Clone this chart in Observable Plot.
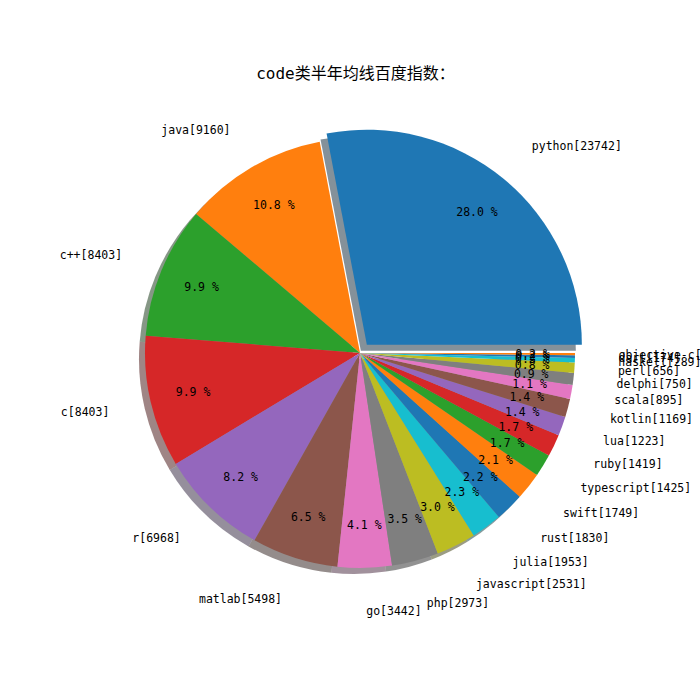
<!DOCTYPE html>
<html>
<head>
<meta charset="utf-8">
<script src="https://cdn.jsdelivr.net/npm/d3@7"></script>
<script src="https://cdn.jsdelivr.net/npm/@observablehq/plot@0.6"></script>
<style>
  html, body { margin: 0; padding: 0; background: #fff; }
  #wrap { position: relative; width: 700px; height: 700px; }
  #title { position: absolute; left: 0; width: 711px; top: 60px; text-align: center;
           font-family: "DejaVu Sans Mono", "Noto Sans CJK SC", monospace; font-size: 16px; color: #000; }
  #chart { position: absolute; left: 0; top: 0; }
</style>
</head>
<body>
<div id="wrap">
  <div id="chart"></div>
  <div id="title">code类半年均线百度指数：</div>
</div>
<script>
const names = ["python","java","c++","c","r","matlab","go","php","javascript","julia","rust","swift","typescript","ruby","lua","kotlin","scala","delphi","perl","haskell","dart","objective-c"];
const values = [23742,9160,8403,8403,6968,5498,3442,2973,2531,1953,1830,1749,1425,1419,1223,1169,895,750,656,289,174,140];
const colors = ["#1f77b4","#ff7f0e","#2ca02c","#d62728","#9467bd","#8c564b","#e377c2","#7f7f7f","#bcbd22","#17becf"];

const EXPLODE_FIRST = 0.05;
const LABEL_DIST = 1.2;
const PCT_DIST = 0.8;
const SHADOW = 0.028;

const total = d3.sum(values);
let cum = 0;
const data = names.map((name, i) => {
  const v = values[i];
  const t1 = 2 * Math.PI * cum / total;
  cum += v;
  const t2 = 2 * Math.PI * cum / total;
  const mid = (t1 + t2) / 2;
  const ex = i === 0 ? EXPLODE_FIRST : 0;
  const cx = ex * Math.cos(mid), cy = ex * Math.sin(mid);
  return {
    name, value: v, t1, t2, mid, cx, cy,
    color: colors[i % colors.length],
    label: `${name}[${v}]`,
    pct: `${(100 * v / total).toFixed(1)} %`,
    lx: cx + LABEL_DIST * Math.cos(mid),
    ly: cy + LABEL_DIST * Math.sin(mid),
    px: cx + PCT_DIST * Math.cos(mid),
    py: cy + PCT_DIST * Math.sin(mid)
  };
});

// pixel layout: center (360,353), radius 215
const W = 700, H = 700, CX = 360, CY = 353, R = 215;
const xDomain = [-CX / R, (W - CX) / R];
const yDomain = [-(H - CY) / R, CY / R];

const font = "'DejaVu Sans Mono', 'Noto Sans CJK SC', monospace";

function wedges(index, scales) {
  const {x, y} = scales;
  const r = x(1) - x(0);
  const g = d3.create("svg:g");
  const arc = d3.arc().innerRadius(0).outerRadius(r);
  for (const d of data) {
    const c = d3.rgb(d.color);
    g.append("path")
      .attr("d", arc({startAngle: Math.PI / 2 - d.t2, endAngle: Math.PI / 2 - d.t1}))
      .attr("transform", `translate(${x(d.cx - SHADOW)},${y(d.cy - SHADOW)})`)
      .attr("fill", d3.rgb(c.r * 0.3, c.g * 0.3, c.b * 0.3))
      .attr("fill-opacity", 0.5);
  }
  for (const d of data) {
    g.append("path")
      .attr("d", arc({startAngle: Math.PI / 2 - d.t2, endAngle: Math.PI / 2 - d.t1}))
      .attr("transform", `translate(${x(d.cx)},${y(d.cy)})`)
      .attr("fill", d.color);
  }
  return g.node();
}

const plot = Plot.plot({
  width: W, height: H,
  margin: 0,
  x: {domain: xDomain, axis: null},
  y: {domain: yDomain, axis: null},
  style: {background: "transparent", overflow: "visible"},
  marks: [
    wedges,
    Plot.text(data, {x: "px", y: "py", text: "pct", textAnchor: "middle", fill: "black", fontSize: 11.5, fontFamily: font}),
    Plot.text(data.filter(d => d.lx > 0), {x: "lx", y: "ly", text: "label", textAnchor: "start", fill: "black", fontSize: 11.5, fontFamily: font}),
    Plot.text(data.filter(d => d.lx <= 0), {x: "lx", y: "ly", text: "label", textAnchor: "end", fill: "black", fontSize: 11.5, fontFamily: font})
  ]
});
document.getElementById("chart").appendChild(plot);
</script>
</body>
</html>
